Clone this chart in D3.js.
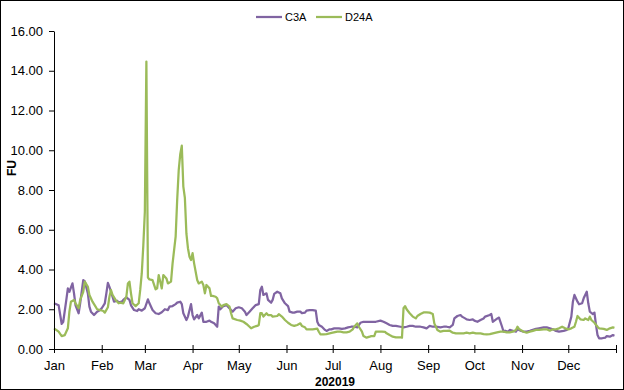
<!DOCTYPE html>
<html>
<head>
<meta charset="utf-8">
<script src="https://cdn.jsdelivr.net/npm/d3@7"></script>
<style>
  html, body { margin: 0; padding: 0; background: #fff; }
  svg { display: block; font-family: "Liberation Sans", Arial, sans-serif; }
</style>
</head>
<body>
<svg id="chart" width="624" height="390"></svg>
<script>
// ---- data (day of year 2019, value) ----
const monthLabels = ["Jan","Feb","Mar","Apr","May","Jun","Jul","Aug","Sep","Oct","Nov","Dec"];
const yTicks = [0,2,4,6,8,10,12,14,16];
const seriesNames = ["C3A","D24A"];
const xTitle = "202019";
const yTitle = "FU";

const c3aDays = [0,3,5,6,8,9,10,12,13,14,
16,17,19,20,22,23,24,26,28,30,
31,33,34,35,36,38,39,41,42,44,
45,47,49,50,52,54,55,57,59,61,
62,64,66,68,70,72,74,75,77,79,
80,82,83,84,86,87,89,90,91,93,
94,96,97,99,101,102,104,106,107,108,
110,112,113,115,116,118,120,122,124,125,
127,129,131,133,134,135,136,138,139,141,
142,143,145,147,148,150,152,153,155,156,
158,160,161,163,164,166,168,170,171,172,
174,176,177,179,180,182,185,187,189,191,
193,195,197,199,201,203,205,207,209,212,
214,216,218,220,222,225,227,229,231,233,
235,238,240,242,244,246,248,251,253,255,
257,259,260,262,264,265,267,268,270,272,
273,275,277,279,280,283,284,285,286,288,
289,291,292,293,295,296,298,300,301,303,
305,307,309,311,313,315,318,320,322,324,
326,328,331,333,334,336,337,338,340,341,
343,344,346,347,348,350,351,352,353,354,
356,358,359,361,363,364];
const c3aValues = [2.3,2.2,1.26,1.37,2.47,3.05,2.88,3.3,2.8,2.2,
1.8,2.3,3.47,3.4,2.8,2.13,1.88,1.71,1.88,1.96,
2.05,2.3,2.8,3.33,3.13,2.63,2.38,2.43,2.35,2.38,
2.47,2.6,2.47,2.2,1.96,1.91,2.0,1.93,2.05,2.5,
2.3,1.96,1.8,1.76,1.85,2.0,1.96,2.13,2.16,2.26,
2.33,2.38,2.26,1.8,1.46,1.63,2.26,1.71,1.49,1.71,
1.54,1.83,1.37,1.37,1.43,1.37,1.29,1.12,2.13,2.0,
2.16,2.21,2.13,1.96,1.88,2.05,2.1,2.05,1.88,1.71,
1.88,2.05,2.21,2.26,2.97,3.13,2.72,2.8,2.47,2.33,
2.47,2.77,2.88,2.8,2.55,2.3,2.16,1.88,1.83,1.83,
1.88,1.88,1.8,1.83,1.93,1.96,1.96,1.93,1.37,1.21,
1.12,0.96,0.91,0.99,0.99,1.04,1.04,1.01,1.04,1.09,
1.12,1.12,1.09,1.32,1.37,1.37,1.37,1.37,1.37,1.43,
1.37,1.29,1.21,1.16,1.16,1.12,1.09,1.12,1.16,1.16,
1.12,1.12,1.09,1.04,1.16,1.12,1.12,1.09,1.12,1.12,
1.09,1.21,1.54,1.66,1.71,1.63,1.54,1.49,1.46,1.49,
1.43,1.37,1.46,1.54,1.63,1.71,1.76,1.37,1.43,1.54,
1.58,1.12,0.87,0.92,0.87,0.96,0.92,0.87,0.99,0.92,
0.87,0.87,0.91,0.96,1.01,1.04,1.09,1.09,1.04,0.99,
0.91,0.87,0.91,0.96,1.04,1.63,2.38,2.72,2.38,2.25,
2.3,2.55,2.88,2.3,1.88,1.76,1.83,1.21,0.7,0.54,
0.54,0.57,0.65,0.62,0.7,0.67];

const d24aDays = [0,3,5,7,9,10,11,13,14,16,
17,19,20,22,23,25,27,28,30,32,
33,35,36,37,38,40,42,43,45,47,
48,49,50,51,53,55,56,57,58,59,
60,61,62,64,66,67,68,70,71,73,
74,76,77,79,80,81,82,83,84,85,
86,87,88,89,90,91,93,94,96,97,
98,99,101,102,103,105,106,107,109,110,
112,114,115,116,119,121,123,125,127,128,
130,132,133,134,135,136,138,139,141,142,
145,146,148,150,152,154,156,158,160,161,
163,164,166,168,171,172,173,175,177,179,
181,184,186,188,190,192,194,195,197,198,
200,201,203,205,206,208,209,211,213,215,
216,218,220,222,225,226,227,228,229,231,
233,235,236,238,240,242,244,246,247,249,
251,253,255,257,259,261,264,266,268,270,
272,274,277,279,281,283,285,287,290,292,
294,296,298,300,301,302,305,307,309,311,
313,315,318,320,322,324,326,328,330,332,
334,336,338,339,340,342,344,345,347,348,
349,351,353,354,357,359,361,363,364];
const d24aValues = [1.04,0.87,0.65,0.7,1.04,1.88,2.38,2.47,2.3,2.05,
2.47,2.88,3.39,3.13,2.72,2.38,2.13,2.0,1.96,1.91,
1.83,2.1,2.63,2.97,2.72,2.47,2.3,2.33,2.3,2.63,
3.3,3.39,2.8,2.3,2.16,2.3,2.97,3.8,5.2,6.9,
14.46,3.6,3.5,3.47,3.0,3.05,3.72,3.05,3.72,3.55,
3.3,3.39,4.3,5.65,7.5,9.0,9.8,10.23,8.17,7.6,
5.8,5.07,4.64,4.48,4.82,4.31,3.47,3.3,3.39,3.22,
2.8,3.22,3.05,2.67,2.67,2.63,2.55,2.3,2.13,2.21,
2.26,2.13,1.8,1.54,1.46,1.43,1.37,1.26,1.12,1.04,
1.12,1.16,1.21,1.8,1.8,1.63,1.8,1.71,1.71,1.63,
1.66,1.75,1.63,1.46,1.32,1.21,1.16,1.21,1.29,1.16,
1.09,0.99,0.99,0.99,1.02,0.87,0.74,0.74,0.75,0.79,
0.82,0.87,0.87,0.84,0.84,0.87,0.99,1.12,1.29,1.12,
0.87,0.65,0.57,0.62,0.65,0.65,0.87,0.87,0.87,0.86,
0.79,0.7,0.62,0.59,0.59,0.57,2.05,2.16,2.0,1.8,
1.63,1.54,1.66,1.76,1.84,1.84,1.83,1.76,1.29,0.96,
0.87,0.91,0.91,0.92,0.82,0.79,0.79,0.79,0.82,0.79,
0.82,0.79,0.79,0.75,0.74,0.75,0.79,0.82,0.87,0.87,
0.84,0.84,0.87,0.96,1.12,1.01,0.87,0.82,0.87,0.91,
0.96,0.96,0.99,0.99,0.92,0.99,0.99,1.04,1.12,1.04,
0.99,1.04,1.12,1.37,1.66,1.49,1.46,1.54,1.46,1.63,
1.46,1.32,1.12,1.04,1.01,0.96,1.04,1.09,1.07];

// ---- chart ----
const W = 624, H = 390;
const plot = { left: 54, right: 616, top: 31, bottom: 349 };
const colors = { "C3A": "#8064A2", "D24A": "#9BBB59" };
const year = 2019;
const toDate = d => new Date(year, 0, 1 + d);

const series = [
  { name: seriesNames[0], pts: c3aDays.map((d, i) => ({ date: toDate(d), v: c3aValues[i] })) },
  { name: seriesNames[1], pts: d24aDays.map((d, i) => ({ date: toDate(d), v: d24aValues[i] })) }
];

const svg = d3.select("#chart");
svg.append("rect").attr("x", 0.5).attr("y", 0.5).attr("width", W - 1).attr("height", H - 1)
  .attr("fill", "#fff").attr("stroke", "#000").attr("stroke-width", 1);

const x = d3.scaleTime().domain([new Date(year, 0, 1), new Date(year + 1, 0, 1)]).range([plot.left, plot.right]);
const y = d3.scaleLinear().domain([0, 16]).range([plot.bottom, plot.top]);

// lines
const line = d3.line().x(p => x(p.date)).y(p => y(p.v));
const order = [series[0], series[1]];
svg.append("g").selectAll("path").data(order).join("path")
  .attr("d", s => line(s.pts))
  .attr("fill", "none")
  .attr("stroke", s => colors[s.name])
  .attr("stroke-width", 2.25)
  .attr("stroke-linejoin", "round");

// y axis
const yAxis = svg.append("g").attr("transform", `translate(${plot.left},0)`)
  .call(d3.axisLeft(y).tickValues(yTicks).tickFormat(d3.format(".2f")).tickSize(5).tickSizeOuter(0).tickPadding(6));
yAxis.selectAll("text").attr("font-size", 13).attr("fill", "#000").attr("font-family", "'Liberation Sans', Arial, sans-serif");
yAxis.selectAll("line,path").attr("stroke", "#000");

// x axis
const monthTicks = d3.timeMonth.range(new Date(year, 0, 1), new Date(year + 1, 0, 2));
const xAxis = svg.append("g").attr("transform", `translate(0,${plot.bottom})`)
  .call(d3.axisBottom(x).tickValues(monthTicks)
    .tickFormat((d, i) => i < monthLabels.length ? monthLabels[i] : "")
    .tickSize(4).tickSizeOuter(0).tickPadding(8));
xAxis.selectAll(".tick line").attr("y1", -4).attr("y2", 4);
xAxis.selectAll("text").attr("font-size", 13).attr("fill", "#000").attr("font-family", "'Liberation Sans', Arial, sans-serif");
xAxis.selectAll("line,path").attr("stroke", "#000");

// axis titles
svg.append("text").attr("x", (plot.left + plot.right) / 2).attr("y", 386)
  .attr("text-anchor", "middle").attr("font-size", 12).attr("font-weight", "bold").text(xTitle);
svg.append("text").attr("transform", `translate(16,168) rotate(-90)`)
  .attr("text-anchor", "middle").attr("font-size", 12).attr("font-weight", "bold").text(yTitle);

// legend
const legendPos = [{ x: 256 }, { x: 316 }];
const lg = svg.append("g").selectAll("g").data(order).join("g")
  .attr("transform", (s, i) => `translate(${legendPos[i].x},17)`);
lg.append("line").attr("x1", 0).attr("x2", 26).attr("y1", 0).attr("y2", 0)
  .attr("stroke", s => colors[s.name]).attr("stroke-width", 2.25);
lg.append("text").attr("x", 29).attr("y", 4).attr("font-size", 11).attr("fill", "#000").text(s => s.name);
</script>
</body>
</html>
